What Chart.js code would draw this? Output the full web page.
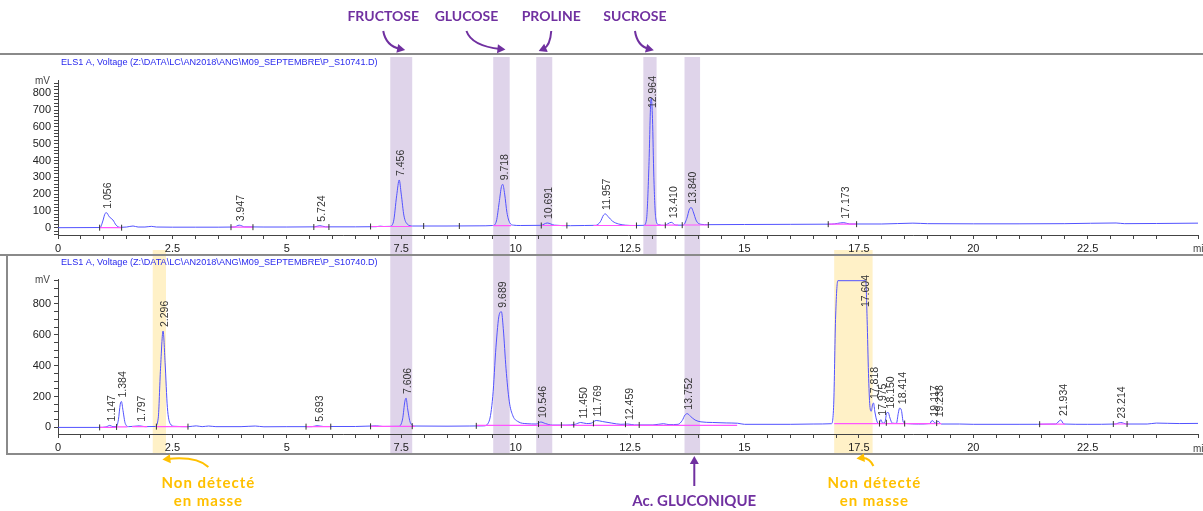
<!DOCTYPE html>
<html>
<head>
<meta charset="utf-8">
<script src="https://cdn.jsdelivr.net/npm/chart.js@4.4.1/dist/chart.umd.min.js"></script>
<style>
  html, body { margin: 0; padding: 0; background: #fff; }
  #wrap { position: relative; width: 1203px; height: 511px; overflow: hidden; }
  canvas { position: absolute; left: 0; }
  #topChart { top: 0; }
  #bottomChart { top: 256px; }
</style>
</head>
<body>
<div id="wrap">
  <canvas id="topChart" width="1203" height="256"></canvas>
  <canvas id="bottomChart" width="1203" height="255"></canvas>
</div>
<script>
// ELSD traces: [minutes, mV]
const topTrace = [
  [0, 0], [0.92, 1], [0.98, 40], [1.03, 85], [1.06, 89], [1.12, 65], [1.2, 46], [1.27, 15], [1.36, 2],
  [1.5, 4], [1.64, 10], [1.75, 4], [1.9, 4], [2.04, 8], [2.15, 4], [2.5, 3], [3.0, 3], [3.5, 3],
  [3.85, 4], [3.96, 15], [4.08, 5], [4.5, 4], [5.0, 4], [5.6, 5], [5.72, 12], [5.85, 5], [6.5, 5],
  [6.95, 6], [7.04, 9], [7.12, 7], [7.25, 8], [7.33, 35], [7.40, 190], [7.456, 284], [7.50, 200],
  [7.56, 70], [7.63, 22], [7.75, 10], [8.5, 10], [9.2, 11], [9.50, 13], [9.58, 40], [9.64, 150],
  [9.69, 245], [9.718, 258], [9.76, 200], [9.81, 90], [9.87, 30], [9.95, 15], [10.1, 13], [10.55, 14],
  [10.69, 28], [10.85, 15], [11.2, 12], [11.5, 13], [11.75, 14], [11.85, 35], [11.92, 75], [11.96, 82],
  [12.02, 66], [12.12, 38], [12.25, 22], [12.4, 15], [12.6, 13], [12.80, 14], [12.86, 50], [12.91, 350],
  [12.95, 740], [12.964, 770], [12.99, 650], [13.02, 300], [13.06, 60], [13.12, 18], [13.25, 14],
  [13.40, 32], [13.5, 15], [13.66, 15], [13.74, 55], [13.80, 112], [13.84, 119], [13.88, 95], [13.95, 40],
  [14.05, 20], [14.2, 18], [15, 19], [16, 20], [16.9, 21], [17.17, 30], [17.3, 22], [18, 22], [18.68, 27],
  [19, 24], [20, 23], [21, 23], [22, 24], [23.12, 28], [23.3, 24], [24, 25], [24.91, 27]
];

const bottomTrace = [
  [0, 0], [0.9, 0], [1.05, 3], [1.13, 13], [1.2, 5], [1.27, 5], [1.32, 50], [1.36, 150], [1.386, 168],
  [1.42, 110], [1.47, 25], [1.55, 5], [1.78, 10], [1.9, 5], [2.12, 6], [2.19, 60], [2.24, 380],
  [2.296, 625], [2.34, 420], [2.39, 130], [2.45, 25], [2.55, 7], [2.85, 5], [3.02, 10], [3.15, 5],
  [3.29, 9], [3.45, 5], [4.0, 5], [4.31, 9], [4.5, 4], [5.0, 5], [5.55, 5], [5.66, 11], [5.8, 6],
  [6.5, 6], [6.96, 10], [7.1, 6], [7.45, 7], [7.53, 55], [7.58, 170], [7.606, 190], [7.64, 120],
  [7.70, 30], [7.8, 9], [8.5, 8], [9.0, 9], [9.30, 10], [9.42, 40], [9.50, 200], [9.57, 520],
  [9.64, 730], [9.689, 750], [9.73, 640], [9.79, 380], [9.86, 170], [9.94, 75], [10.05, 38], [10.25, 24],
  [10.45, 22], [10.55, 35], [10.65, 25], [10.8, 15], [11.1, 15], [11.3, 20], [11.42, 32], [11.55, 25],
  [11.65, 27], [11.76, 45], [11.9, 38], [12.1, 28], [12.3, 20], [12.45, 22], [12.6, 16], [13.0, 16],
  [13.23, 24], [13.35, 18], [13.55, 20], [13.64, 45], [13.70, 80], [13.75, 89], [13.82, 72], [13.92, 48],
  [14.05, 36], [14.3, 32], [14.6, 29], [14.85, 27], [15.0, 20], [16.0, 20], [16.5, 22], [16.9, 24],
  [16.95, 150], [16.99, 700], [17.04, 951], [17.65, 951], [17.68, 700], [17.71, 350], [17.74, 140],
  [17.77, 105], [17.80, 150], [17.82, 158], [17.85, 100], [17.90, 35], [17.94, 25], [17.98, 50],
  [18.02, 28], [18.07, 35], [18.11, 95], [18.14, 97], [18.18, 60], [18.23, 28], [18.32, 26], [18.36, 90],
  [18.39, 125], [18.43, 110], [18.47, 35], [18.55, 25], [18.8, 22], [19.05, 25], [19.1, 45], [19.17, 28],
  [19.23, 40], [19.3, 22], [19.7, 22], [20.0, 20], [21.0, 20], [21.8, 22], [21.91, 48], [21.98, 22],
  [22.5, 20], [23.1, 22], [23.22, 32], [23.35, 22], [23.8, 22], [24.0, 28], [24.5, 25], [24.91, 26]
];

// retention times printed above the peaks
const topPeaks = ['1.056', '3.947', '5.724', '7.456', '9.718', '10.691', '11.957', '12.964', '13.410', '13.840', '17.173'];
const bottomPeaks = ['1.147', '1.384', '1.797', '2.296', '5.693', '7.606', '9.689', '10.546', '11.450', '11.769',
  '12.459', '13.752', '17.604', '17.818', '17.975', '18.150', '18.414', '19.117', '19.238', '21.934', '23.214'];

// integration baselines [start, end, mV]
const topBaselines = [[0.91, 1.39, 0], [3.78, 4.26, 3], [5.59, 5.92, 4], [6.83, 7.73, 7], [9.51, 9.90, 12],
  [10.56, 11.12, 13], [11.7, 12.64, 13], [12.81, 13.27, 14], [13.27, 13.55, 15], [13.64, 14.21, 16], [16.83, 17.45, 21]];
const bottomBaselines = [[0.91, 1.28, 0], [1.28, 1.52, 3], [1.62, 1.95, 5], [2.15, 2.84, 5], [5.42, 5.96, 5],
  [6.83, 7.8, 7], [9.14, 14.84, 13], [16.96, 19.3, 24], [21.45, 22.0, 21], [23.06, 23.4, 22]];

// small integration markers [minutes, mV]
const topMarks = [[0.91, 0], [1.39, 0], [3.78, 3], [4.26, 3], [5.59, 4], [5.92, 4], [6.83, 7], [7.99, 10],
  [8.77, 10], [10.56, 13], [11.12, 13], [12.64, 13], [13.27, 14], [13.64, 15], [14.21, 16], [16.83, 21], [17.45, 21]];
const bottomMarks = [[0.91, 0], [1.28, 3], [2.15, 5], [2.84, 5], [5.42, 5], [5.96, 5], [6.83, 7], [7.74, 8],
  [9.14, 10], [10.5, 22], [11.0, 15], [11.27, 18], [11.7, 26], [12.4, 21], [12.7, 16], [17.95, 25], [18.1, 30],
  [18.5, 25], [19.2, 28], [21.45, 21], [23.06, 22], [23.36, 22]];

// highlighted compounds (minutes)
const bandNames = ['FRUCTOSE', 'GLUCOSE', 'PROLINE', 'SUCROSE', 'Ac. GLUCONIQUE'];
const bandRanges = [[7.26, 7.74], [9.51, 9.87], [10.45, 10.80], [12.79, 13.08], [13.69, 14.03]];
const orangeRanges = [[2.07, 2.36], [16.96, 17.80]];
const orangeText = ['Non détecté', 'en masse'];

const PURPLE = '#7030A0';
const GOLD = '#FFC000';
const PURPLE_BAND = 'rgba(140, 100, 180, 0.28)';
const GOLD_BAND = 'rgba(255, 192, 0, 0.22)';
const TRACE = '#5252ff';
const AXIS = '#444';
const TICK_FONT = { family: '"Liberation Sans", Arial, sans-serif', size: 11 };

function centerOf(scale, r) {
  return (scale.getPixelForValue(r[0]) + scale.getPixelForValue(r[1])) / 2;
}

function arrow(ctx, x0, y0, cx, cy, x1, y1, color) {
  ctx.save();
  ctx.strokeStyle = color;
  ctx.fillStyle = color;
  ctx.lineWidth = 2;
  ctx.beginPath();
  ctx.moveTo(x0, y0);
  ctx.quadraticCurveTo(cx, cy, x1, y1);
  ctx.stroke();
  const a = Math.atan2(y1 - cy, x1 - cx);
  const ux = Math.cos(a), uy = Math.sin(a);
  ctx.beginPath();
  ctx.moveTo(x1 + ux * 5, y1 + uy * 5);
  ctx.lineTo(x1 - ux * 3 - uy * 4.5, y1 - uy * 3 + ux * 4.5);
  ctx.lineTo(x1 - ux * 3 + uy * 4.5, y1 - uy * 3 - ux * 4.5);
  ctx.closePath();
  ctx.fill();
  ctx.restore();
}

function drawTitle(ctx, text, y) {
  ctx.save();
  ctx.font = '9.15px "Liberation Sans", Arial, sans-serif';
  ctx.fillStyle = '#2a2aee';
  ctx.textBaseline = 'middle';
  ctx.fillText(text, 61, y);
  ctx.restore();
}

function drawUnits(chart, minY) {
  const { ctx, chartArea } = chart;
  ctx.save();
  ctx.font = '10px "Liberation Sans", Arial, sans-serif';
  ctx.fillStyle = '#444';
  ctx.textBaseline = 'middle';
  ctx.textAlign = 'right';
  ctx.fillText('mV', 50, chartArea.top + 1);
  ctx.textAlign = 'left';
  ctx.fillText('min', 1193, minY);
  ctx.restore();
}

function drawPeakLabels(chart, trace, peaks) {
  const { ctx, chartArea, scales: { x, y } } = chart;
  ctx.save();
  ctx.font = '10.5px "Liberation Sans", Arial, sans-serif';
  ctx.fillStyle = '#333';
  ctx.textBaseline = 'middle';
  ctx.textAlign = 'left';
  peaks.forEach(p => {
    const t = parseFloat(p);
    let h = 0;
    trace.forEach(([tt, v]) => { if (Math.abs(tt - t) <= 0.06 && v > h) h = v; });
    const w = ctx.measureText(p).width;
    let base = y.getPixelForValue(h) - 4;
    if (base - w < chartArea.top - 4) base = chartArea.top - 4 + w;
    ctx.save();
    ctx.translate(x.getPixelForValue(t) + 2, base);
    ctx.rotate(-Math.PI / 2);
    ctx.fillText(p, 0, 0);
    ctx.restore();
  });
  ctx.restore();
}

function datasetsFor(trace, baselines, marks) {
  const base = [];
  baselines.forEach(([a, b, v]) => {
    base.push({ x: a, y: v }, { x: b, y: v }, { x: b, y: null });
  });
  return [
    {
      data: marks.map(([x, y]) => ({ x, y })),
      showLine: false,
      pointStyle: 'line',
      pointRotation: 90,
      pointRadius: 3,
      pointBorderColor: '#333',
      pointBorderWidth: 1,
      order: 0
    },
    {
      data: base,
      borderColor: '#ff55ff',
      borderWidth: 1.2,
      pointRadius: 0,
      spanGaps: false,
      order: 1
    },
    {
      data: trace.map(([x, y]) => ({ x, y })),
      borderColor: TRACE,
      borderWidth: 1,
      pointRadius: 0,
      cubicInterpolationMode: 'monotone',
      order: 2
    }
  ];
}

function makeOptions(yMin, yMax, yStep, labelStep, padTop, padBottom) {
  return {
    responsive: false,
    animation: false,
    events: [],
    layout: { padding: { top: padTop, bottom: padBottom, left: 0, right: 0 } },
    plugins: { legend: { display: false }, tooltip: { enabled: false } },
    scales: {
      x: {
        type: 'linear',
        min: 0,
        max: 24.91,
        afterFit: s => { s.height = 20; },
        border: { display: true, color: AXIS, width: 1 },
        grid: { drawOnChartArea: false, drawTicks: true, tickLength: 4, color: AXIS },
        ticks: {
          stepSize: 0.5,
          maxTicksLimit: 1000,
          autoSkip: false,
          maxRotation: 0,
          padding: 3,
          color: '#222',
          font: TICK_FONT,
          callback: v => Math.abs(v / 2.5 - Math.round(v / 2.5)) < 1e-6 ? String(+v.toFixed(1)) : ''
        }
      },
      y: {
        min: yMin,
        max: yMax,
        afterFit: s => { s.width = 58; },
        border: { display: true, color: AXIS, width: 1 },
        grid: { drawOnChartArea: false, drawTicks: true, tickLength: 4, color: AXIS },
        ticks: {
          stepSize: yStep,
          maxTicksLimit: 1000,
          includeBounds: false,
          autoSkip: false,
          padding: 3,
          color: '#222',
          font: TICK_FONT,
          callback: v => (Math.round(v) % labelStep === 0 ? String(Math.round(v)) : '')
        }
      }
    }
  };
}

// top panel: sample P_S10741
const topDecor = {
  id: 'topDecor',
  beforeDraw(chart) {
    const { ctx, scales: { x } } = chart;
    ctx.save();
    ctx.fillStyle = PURPLE_BAND;
    bandRanges.forEach(r => {
      const x0 = x.getPixelForValue(r[0]), x1 = x.getPixelForValue(r[1]);
      ctx.fillRect(x0, 57, x1 - x0, chart.height - 57);
    });
    ctx.fillStyle = GOLD_BAND;
    orangeRanges.forEach(r => {
      const x0 = x.getPixelForValue(r[0]), x1 = x.getPixelForValue(r[1]);
      ctx.fillRect(x0, 250, x1 - x0, chart.height - 250);
    });
    ctx.restore();
  },
  afterDraw(chart) {
    const { ctx, scales: { x } } = chart;
    ctx.save();
    ctx.strokeStyle = '#8a8a8a';
    ctx.lineWidth = 2;
    ctx.beginPath();
    ctx.moveTo(0, 54); ctx.lineTo(chart.width, 54);
    ctx.moveTo(0, 255); ctx.lineTo(chart.width, 255);
    ctx.stroke();
    ctx.restore();

    drawTitle(ctx, 'ELS1 A, Voltage (Z:\\DATA\\LC\\AN2018\\ANG\\M09_SEPTEMBRE\\P_S10741.D)', 62);
    drawUnits(chart, 249);
    drawPeakLabels(chart, topTrace, topPeaks);

    // compound names with their arrows
    const offsets = [-18, -35, 7, -15];
    ctx.save();
    ctx.font = 'bold 14px Lato, "Open Sans", sans-serif';
    ctx.fillStyle = PURPLE;
    ctx.textAlign = 'center';
    ctx.textBaseline = 'middle';
    for (let i = 0; i < 4; i++) {
      const bx = centerOf(x, bandRanges[i]);
      const lx = bx + offsets[i];
      ctx.fillText(bandNames[i], lx, 16);
      arrow(ctx, lx, 31, lx + (bx - lx) * 0.15, 46, bx - 1, 49, PURPLE);
    }
    ctx.restore();
  }
};

// bottom panel: sample P_S10740
const bottomDecor = {
  id: 'bottomDecor',
  beforeDraw(chart) {
    const { ctx, scales: { x } } = chart;
    ctx.save();
    ctx.fillStyle = PURPLE_BAND;
    bandRanges.forEach((r, i) => {
      if (i === 3) return; // sucrose only marked in the upper trace
      const x0 = x.getPixelForValue(r[0]), x1 = x.getPixelForValue(r[1]);
      ctx.fillRect(x0, 0, x1 - x0, 199);
    });
    ctx.fillStyle = GOLD_BAND;
    orangeRanges.forEach(r => {
      const x0 = x.getPixelForValue(r[0]), x1 = x.getPixelForValue(r[1]);
      ctx.fillRect(x0, 0, x1 - x0, 199);
    });
    ctx.restore();
  },
  afterDraw(chart) {
    const { ctx, scales: { x } } = chart;
    ctx.save();
    ctx.strokeStyle = '#8a8a8a';
    ctx.lineWidth = 2;
    ctx.beginPath();
    ctx.moveTo(7, 0); ctx.lineTo(7, 198); ctx.lineTo(chart.width, 198);
    ctx.stroke();
    ctx.restore();

    drawTitle(ctx, 'ELS1 A, Voltage (Z:\\DATA\\LC\\AN2018\\ANG\\M09_SEPTEMBRE\\P_S10740.D)', 6);
    drawUnits(chart, 193);
    drawPeakLabels(chart, bottomTrace, bottomPeaks);

    ctx.save();
    ctx.font = 'bold 15px Lato, "Open Sans", sans-serif';
    ctx.textAlign = 'center';
    ctx.textBaseline = 'middle';

    // gluconic acid
    const gx = centerOf(x, bandRanges[4]) + 2;
    ctx.fillStyle = PURPLE;
    ctx.fillText(bandNames[4], gx, 245);
    arrow(ctx, gx, 230, gx, 215, gx, 205, PURPLE);

    // peaks not seen by mass spectrometry
    const shifts = [49, 21];
    ctx.letterSpacing = '1px';
    orangeRanges.forEach((r, i) => {
      const bx = centerOf(x, r);
      const lx = bx + shifts[i];
      ctx.fillStyle = GOLD;
      ctx.fillText(orangeText[0], lx, 227);
      ctx.fillText(orangeText[1], lx, 245);
      if (i === 0) arrow(ctx, lx, 211, lx - 12, 200, bx + 8, 203, GOLD);
      else arrow(ctx, lx - 1, 210, lx - 5, 201, bx + 8, 202, GOLD);
    });
    ctx.restore();
  }
};

new Chart(document.getElementById('topChart'), {
  type: 'line',
  data: { datasets: datasetsFor(topTrace, topBaselines, topMarks) },
  options: makeOptions(-43.5, 879, 20, 100, 80, 1),
  plugins: [topDecor]
});

new Chart(document.getElementById('bottomChart'), {
  type: 'line',
  data: { datasets: datasetsFor(bottomTrace, bottomBaselines, bottomMarks) },
  options: makeOptions(-42.7, 962, 50, 200, 23, 57),
  plugins: [bottomDecor]
});
</script>
</body>
</html>
